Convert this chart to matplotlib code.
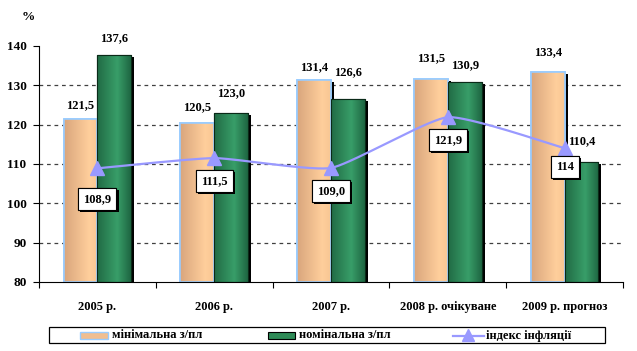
import numpy as np
import matplotlib
matplotlib.use("Agg")
import matplotlib.pyplot as plt
import matplotlib.transforms as mtransforms
import matplotlib.patheffects as pe
from matplotlib.patches import Rectangle
from matplotlib.lines import Line2D

categories = ["2005 р.", "2006 р.", "2007 р.", "2008 р. очікуване", "2009 р. прогноз"]
min_wage = [121.5, 120.5, 131.4, 131.5, 133.4]
nom_wage = [137.6, 123.0, 126.6, 130.9, 110.4]
inflation = [108.9, 111.5, 109.0, 121.9, 114]
inflation_labels = ["108,9", "111,5", "109,0", "121,9", "114"]
series_names = ["мінімальна з/пл", "номінальна з/пл", "індекс інфляції"]
y_ticks = [80, 90, 100, 110, 120, 130, 140]

FONT = "Liberation Serif"
plt.rcParams["font.family"] = [FONT, "DejaVu Serif"]
plt.rcParams["font.weight"] = "bold"

W, H = 637, 351
fig = plt.figure(figsize=(W / 100, H / 100), dpi=100)
ax = fig.add_axes([39 / W, 1 - 282 / H, (623 - 39) / W, (282 - 46) / H])

n = len(categories)
x = np.arange(n)
bw = 0.29
FS = 9

def fmt(v):
    return f"{v:.1f}".replace(".", ",")

# grid
for yv in y_ticks[1:-1]:
    ax.axhline(yv, color="#404040", lw=0.9, ls=(0, (3, 3)), zorder=1)

shadow_tr = ax.transData + mtransforms.ScaledTranslation(3 / 100, -2 / 100, fig.dpi_scale_trans)

def grad_colors(c_left, c_mid, c_right, peak=0.7, N=64):
    t = np.linspace(0, 1, N)
    out = np.zeros((1, N, 3))
    for i, tt in enumerate(t):
        if tt < peak:
            f = tt / peak
            out[0, i] = np.array(c_left) * (1 - f) + np.array(c_mid) * f
        else:
            f = (tt - peak) / (1 - peak)
            out[0, i] = np.array(c_mid) * (1 - f) + np.array(c_right) * f
    return out

org_grad = grad_colors((0.85, 0.65, 0.49), (1.0, 0.81, 0.61), (0.97, 0.78, 0.58), peak=0.75)
grn_grad = grad_colors((0.13, 0.42, 0.27), (0.22, 0.62, 0.41), (0.12, 0.40, 0.26), peak=0.6)

xo = x - bw / 2
xg = x + bw / 2
# shadows
ax.bar(xo, np.array(min_wage) - 80, bw, bottom=80, color="black", transform=shadow_tr, zorder=2)
ax.bar(xg, np.array(nom_wage) - 80, bw, bottom=80, color="black", transform=shadow_tr, zorder=2)

bars_o = ax.bar(xo, np.array(min_wage) - 80, bw, bottom=80, color="#FFCC99", edgecolor="#99CCFF", lw=1.2, zorder=3)
bars_g = ax.bar(xg, np.array(nom_wage) - 80, bw, bottom=80, color="#2E8B57", edgecolor="#0A2A18", lw=0.8, zorder=3)

for bars, g in ((bars_o, org_grad), (bars_g, grn_grad)):
    for r in bars:
        x0, y0 = r.get_x(), r.get_y()
        im = ax.imshow(g, extent=[x0, x0 + r.get_width(), y0, y0 + r.get_height()],
                       aspect="auto", zorder=3.5, interpolation="bilinear")
        im.set_clip_path(r)
    for r in bars:
        ax.add_patch(Rectangle((r.get_x(), r.get_y()), r.get_width(), r.get_height(),
                               fill=False, edgecolor=r.get_edgecolor(), lw=r.get_linewidth(), zorder=3.6))

# bar labels (offsets in px above bar tops)
o_off = [14, 16, 13, 21, 20]
g_off = [17, 20, 27, 17, 21]
for i in range(n):
    ax.annotate(fmt(min_wage[i]), (xo[i], min_wage[i]), xytext=(0, o_off[i] * 0.72),
                textcoords="offset points", ha="center", va="center", fontsize=FS,
                fontweight="bold", zorder=6)
    ax.annotate(fmt(nom_wage[i]), (xg[i], nom_wage[i]), xytext=(0, g_off[i] * 0.72),
                textcoords="offset points", ha="center", va="center", fontsize=FS,
                fontweight="bold", zorder=6)

# smoothed inflation line (cardinal spline, reduced tension)
px = np.array(x, float)
py = np.array(inflation, float)
P = np.vstack([px, py]).T
s = 0.25
m = np.zeros_like(P)
for i in range(len(P)):
    if i == 0:
        m[i] = s * (P[1] - P[0])
    elif i == len(P) - 1:
        m[i] = s * (P[-1] - P[-2])
    else:
        m[i] = s * (P[i + 1] - P[i - 1])
cx, cy = [], []
for i in range(len(P) - 1):
    for t in np.linspace(0, 1, 40):
        h00 = 2 * t ** 3 - 3 * t ** 2 + 1
        h10 = t ** 3 - 2 * t ** 2 + t
        h01 = -2 * t ** 3 + 3 * t ** 2
        h11 = t ** 3 - t ** 2
        c = h00 * P[i] + h10 * m[i] + h01 * P[i + 1] + h11 * m[i + 1]
        cx.append(c[0]); cy.append(c[1])
LINE_C = "#9999FF"
ax.plot(cx, cy, color=LINE_C, lw=1.6, zorder=4)
ax.plot(px, py, ls="none", marker="^", ms=10, color=LINE_C, mec=LINE_C, zorder=5)

l_off = [31, 23, 23, 23, 19]
for i in range(n):
    t = ax.annotate(inflation_labels[i], (px[i], py[i]), xytext=(0, -l_off[i] * 0.72),
                    textcoords="offset points", ha="center", va="center", fontsize=FS,
                    fontweight="bold", zorder=7,
                    bbox=dict(boxstyle="square,pad=0.4", fc="white", ec="black", lw=0.8))
    t.get_bbox_patch().set_path_effects([pe.withSimplePatchShadow(offset=(1.5, -1.5),
                                                                    shadow_rgbFace="black", alpha=1.0),
                                         pe.Normal()])

ax.set_xlim(-0.5, n - 0.5)
ax.set_ylim(80, 140)
ax.set_yticks(y_ticks)
ax.set_yticklabels([str(v) for v in y_ticks], fontsize=9.5, fontweight="bold")
ax.set_xticks(x)
ax.set_xticklabels(categories, fontsize=FS, fontweight="bold")
ax.xaxis.set_tick_params(length=0, pad=14)
ax.set_xticks(np.arange(-0.5, n), minor=True)
ax.xaxis.set_tick_params(which="minor", length=4, direction="out", width=0.8)
ax.yaxis.set_tick_params(length=4, direction="out", width=0.8, pad=5)
for sp in ("top", "right"):
    ax.spines[sp].set_visible(False)
for sp in ("left", "bottom"):
    ax.spines[sp].set_linewidth(0.8)
    ax.spines[sp].set_zorder(8)

fig.text(22 / W, 1 - 17 / H, "%", fontsize=9.5, fontweight="bold", ha="left", va="center")

# legend drawn in pixel overlay
lax = fig.add_axes([0, 0, 1, 1], zorder=10)
lax.set_xlim(0, W)
lax.set_ylim(H, 0)
lax.axis("off")
lax.add_patch(Rectangle((49, 327), 556, 16, fill=False, ec="black", lw=0.9))
lax.add_patch(Rectangle((80, 332), 28, 7, fc="#F0BE90", ec="#99CCFF", lw=1.0))
lax.add_patch(Rectangle((268, 332), 27, 7, fc="#2E8B57", ec="black", lw=0.8))
lax.add_line(Line2D([453, 484], [335.5, 335.5], color=LINE_C, lw=1.6))
lax.plot([468], [335], marker="^", ms=8, color=LINE_C, ls="none")
for xt, txt in zip([112, 299, 486], series_names):
    lax.text(xt, 335.5, txt, fontsize=FS, fontweight="bold", ha="left", va="center")

fig.savefig("out.png", dpi=100)
